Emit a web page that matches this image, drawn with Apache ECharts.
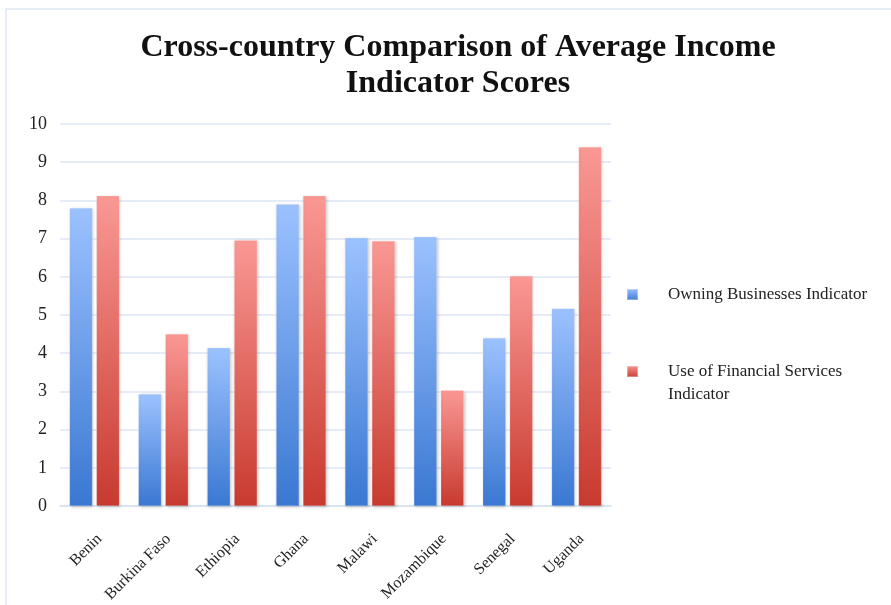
<!DOCTYPE html>
<html>
<head>
<meta charset="utf-8">
<script src="https://cdn.jsdelivr.net/npm/echarts@6/dist/echarts.min.js"></script>
<style>
  html, body { margin: 0; padding: 0; background: #ffffff; }
  #chart { width: 891px; height: 605px; }
</style>
</head>
<body>
<div id="chart"></div>
<script>
// Average income indicator scores by country
const countries = ['Benin', 'Burkina Faso', 'Ethiopia', 'Ghana', 'Malawi', 'Mozambique', 'Senegal', 'Uganda'];
const owningBusinesses = [7.8, 2.93, 4.14, 7.9, 7.02, 7.05, 4.4, 5.17];
const financialServices = [8.12, 4.5, 6.96, 8.12, 6.94, 3.03, 6.02, 9.4];
const yTicks = { min: 0, max: 10, interval: 1 };

const seriesNames = ['Owning Businesses Indicator', 'Use of Financial Services Indicator'];

const serif = '"Liberation Serif", "Times New Roman", serif';

function vGrad(top, bottom) {
  return new echarts.graphic.LinearGradient(0, 0, 0, 1, [
    { offset: 0, color: top },
    { offset: 1, color: bottom }
  ]);
}

const blueFill = vGrad('#9cc2ff', '#3a78d2');
const redFill = vGrad('#fa9894', '#c83a2f');

const barShadow = {
  shadowColor: 'rgba(0,0,0,0.22)',
  shadowBlur: 3,
  shadowOffsetX: 1,
  shadowOffsetY: 1
};

const legendText = { fontFamily: serif, fontSize: 17, color: '#222222', lineHeight: 23 };

const chart = echarts.init(document.getElementById('chart'), null, { renderer: 'canvas' });

chart.setOption({
  animation: false,
  backgroundColor: '#ffffff',
  title: {
    text: 'Cross-country Comparison of Average Income\nIndicator Scores',
    left: 453,
    top: 25,
    textAlign: 'center',
    textStyle: {
      fontFamily: serif,
      fontWeight: 'bold',
      fontSize: 32,
      lineHeight: 36,
      color: '#111111'
    }
  },
  graphic: [{
    type: 'rect',
    shape: { x: 6, y: 9, width: 900, height: 620 },
    style: { fill: 'none', stroke: '#dfe8f4', lineWidth: 1.5 },
    silent: true,
    z: -1
  }],
  legend: [{
    orient: 'vertical',
    left: 621,
    top: 278,
    icon: 'rect',
    itemWidth: 11,
    itemHeight: 11,
    data: [{ name: seriesNames[0], textStyle: { padding: [0, 0, 0, 25] } }],
    textStyle: legendText
  }, {
    orient: 'vertical',
    left: 621,
    top: 332,
    icon: 'rect',
    itemWidth: 11,
    itemHeight: 11,
    data: [{ name: seriesNames[1], textStyle: { padding: [0, 0, 0, 25] } }],
    // leading empty line keeps the first text line level with the swatch
    formatter: function () {
      return '\nUse of Financial Services\nIndicator';
    },
    textStyle: legendText
  }],
  grid: [{
    // plot area
    left: 60,
    right: 280,
    top: 124,
    bottom: 99,
    containLabel: false
  }, {
    // category label band, nudged a few pixels right of the bars
    left: 65,
    right: 275,
    top: 124,
    bottom: 99,
    containLabel: false
  }],
  xAxis: [{
    type: 'category',
    gridIndex: 0,
    data: countries,
    axisLine: { show: true, lineStyle: { color: '#d5e1f0', width: 1.5 } },
    axisTick: { show: false },
    axisLabel: { show: false }
  }, {
    type: 'category',
    gridIndex: 1,
    data: countries,
    axisLine: { show: false },
    axisTick: { show: false },
    splitLine: { show: false },
    axisLabel: {
      rotate: 45,
      margin: 31,
      fontFamily: serif,
      fontSize: 16,
      color: '#222222',
      interval: 0
    }
  }],
  yAxis: [{
    type: 'value',
    gridIndex: 0,
    min: yTicks.min,
    max: yTicks.max,
    interval: yTicks.interval,
    axisLine: { show: false },
    axisTick: { show: false },
    splitLine: { lineStyle: { color: '#dce6f5', width: 1.5 } },
    axisLabel: {
      margin: 13,
      fontFamily: serif,
      fontSize: 18,
      color: '#222222'
    }
  }, {
    type: 'value',
    gridIndex: 1,
    min: yTicks.min,
    max: yTicks.max,
    show: false
  }],
  series: [{
    name: seriesNames[0],
    type: 'bar',
    xAxisIndex: 0,
    yAxisIndex: 0,
    data: owningBusinesses,
    barWidth: 23,
    barGap: '17%',
    itemStyle: Object.assign({ color: blueFill, borderColor: 'rgba(255,255,255,0.35)', borderWidth: 0.5 }, barShadow)
  }, {
    name: seriesNames[1],
    type: 'bar',
    xAxisIndex: 0,
    yAxisIndex: 0,
    data: financialServices,
    barWidth: 23,
    itemStyle: Object.assign({ color: redFill, borderColor: 'rgba(255,255,255,0.35)', borderWidth: 0.5 }, barShadow)
  }]
});
</script>
</body>
</html>
